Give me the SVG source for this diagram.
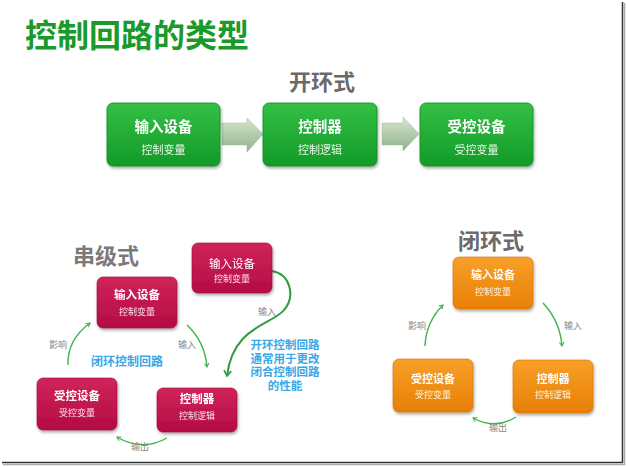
<svg xmlns="http://www.w3.org/2000/svg" width="626" height="467" viewBox="0 0 626 467">
<defs>
<style>
text{font-family:"Noto Sans CJK SC","Noto Sans",sans-serif;text-anchor:middle}
.title{font-size:32px;font-weight:bold;fill:#1a9a2a;text-anchor:start}
.sec{font-size:22px;font-weight:bold;fill:#6a6a6a}
.gm{font-size:14.5px;font-weight:bold;fill:#fff}
.gs{font-size:11px;fill:#e8f8e8}
.m{font-size:11.5px;font-weight:bold;fill:#fff}
.s{font-size:9px;fill:#fbe0ea}
.so{font-size:9px;fill:#fff3e0}
.lab{font-size:9px;fill:#888}
.blue{font-size:12px;font-weight:bold;fill:#3aa7e6}
.blue2{font-size:11.5px;font-weight:bold;fill:#3aa7e6}
.con{fill:none;stroke:#3cb44b;stroke-width:1.4}
.conb{fill:none;stroke:#2f9e3e;stroke-width:2}
</style>
<linearGradient id="gG" x1="0" y1="0" x2="0" y2="1"><stop offset="0" stop-color="#34c046"/><stop offset="1" stop-color="#139a28"/></linearGradient>
<linearGradient id="gR" x1="0" y1="0" x2="0" y2="1"><stop offset="0" stop-color="#d0245a"/><stop offset="1" stop-color="#b30c44"/></linearGradient>
<linearGradient id="gO" x1="0" y1="0" x2="0" y2="1"><stop offset="0" stop-color="#f8a02a"/><stop offset="1" stop-color="#e87f04"/></linearGradient>
<linearGradient id="gA" x1="0" y1="0" x2="0" y2="1"><stop offset="0" stop-color="#d5e6cf"/><stop offset="1" stop-color="#8fb28a"/></linearGradient>
<filter id="sh" x="-10%" y="-10%" width="130%" height="140%"><feDropShadow dx="1" dy="2" stdDeviation="1.5" flood-color="#000" flood-opacity="0.35"/></filter>
<marker id="ah" viewBox="0 0 8 8" refX="6" refY="4" markerWidth="6" markerHeight="6" orient="auto" markerUnits="userSpaceOnUse"><path d="M1,1 L6,4 L1,7" fill="none" stroke="#3cb44b" stroke-width="1.4"/></marker>
<marker id="ahb" viewBox="0 0 10 10" refX="7" refY="5" markerWidth="9" markerHeight="9" orient="auto" markerUnits="userSpaceOnUse"><path d="M1,1 L7,5 L1,9" fill="none" stroke="#2f9e3e" stroke-width="2"/></marker>
</defs>
<rect width="626" height="467" fill="#fff"/>
<line x1="622.5" y1="2" x2="622.5" y2="463" stroke="#333" stroke-width="1.5"/>
<line x1="624.5" y1="3" x2="624.5" y2="465" stroke="#aaa" stroke-width="1.5"/>
<line x1="2" y1="462.5" x2="623" y2="462.5" stroke="#333" stroke-width="1.5"/>
<line x1="3" y1="464.5" x2="625" y2="464.5" stroke="#aaa" stroke-width="1.5"/>

<text class="title" x="25" y="47">控制回路的类型</text>
<text class="sec" x="322" y="90" fill="#555">开环式</text>
<text class="sec" x="106" y="264" style="fill:#7a7a7a">串级式</text>
<text class="sec" x="491" y="249">闭环式</text>

<g id="open-arrows">
<polygon points="222,123 247,123 247,118 263,134 247,152 247,145 222,145" fill="url(#gA)" stroke="#9bb894" stroke-width="0.5"/>
<polygon points="382,123 403,123 403,117 419,134 403,151 403,145 382,145" fill="url(#gA)" stroke="#9bb894" stroke-width="0.5"/>
</g>

<g id="open-input" filter="url(#sh)">
<rect x="107" y="103" width="113" height="63" rx="6" fill="url(#gG)" stroke="#0f8a20" stroke-width="0.8"/>
<text class="gm" x="163.5" y="132">输入设备</text>
<text class="gs" x="163.5" y="154">控制变量</text>
</g>
<g id="open-controller" filter="url(#sh)">
<rect x="263" y="103" width="114" height="63" rx="6" fill="url(#gG)" stroke="#0f8a20" stroke-width="0.8"/>
<text class="gm" x="320" y="132">控制器</text>
<text class="gs" x="320" y="154">控制逻辑</text>
</g>
<g id="open-plant" filter="url(#sh)">
<rect x="420" y="103" width="113" height="63" rx="6" fill="url(#gG)" stroke="#0f8a20" stroke-width="0.8"/>
<text class="gm" x="476.5" y="132">受控设备</text>
<text class="gs" x="476.5" y="154">受控变量</text>
</g>

<g id="connectors">
<path class="con" d="M68,365 Q67,340 90,323" marker-end="url(#ah)"/>
<path class="con" d="M187,325 Q205,342 207,367" marker-end="url(#ah)"/>
<path class="con" d="M167,438 Q142,452 117,437" marker-end="url(#ah)"/>
<path class="conb" d="M272,271 C290,274 296,296 284,310 C272,325 233,326 227,376" marker-end="url(#ahb)"/>
<path class="con" d="M543,303 Q560,321 562,346" marker-end="url(#ah)"/>
<path class="con" d="M425,346 Q426,322 443,305" marker-end="url(#ah)"/>
<path class="con" d="M516,417 Q495,430 473,418" marker-end="url(#ah)"/>
</g>

<g id="labels">
<text class="lab" x="58" y="348">影响</text>
<text class="lab" x="187" y="348">输入</text>
<text class="lab" x="140" y="450">输出</text>
<text class="lab" x="267" y="315">输入</text>
<text class="blue" x="127" y="366">闭环控制回路</text>
<text class="blue2" x="285" y="349"><tspan x="285">开环控制回路</tspan><tspan x="285" dy="13.6">通常用于更改</tspan><tspan x="285" dy="13.6">闭合控制回路</tspan><tspan x="285" dy="13.6">的性能</tspan></text>
<text class="lab" x="417" y="329">影响</text>
<text class="lab" x="573" y="329">输入</text>
<text class="lab" x="498" y="431">输出</text>
</g>

<g id="cas-input1" filter="url(#sh)">
<rect x="97" y="277" width="80" height="51" rx="6" fill="url(#gR)" stroke="#9a0a38" stroke-width="0.6"/>
<text class="m" x="137" y="299">输入设备</text>
<text class="s" x="137" y="315">控制变量</text>
</g>
<g id="cas-input2" filter="url(#sh)">
<rect x="192" y="243" width="80" height="50" rx="6" fill="url(#gR)" stroke="#9a0a38" stroke-width="0.6"/>
<text class="m" x="232" y="268" style="font-weight:normal">输入设备</text>
<text class="s" x="232" y="282">控制变量</text>
</g>
<g id="cas-plant" filter="url(#sh)">
<rect x="37" y="378" width="80" height="52" rx="6" fill="url(#gR)" stroke="#9a0a38" stroke-width="0.6"/>
<text class="m" x="77" y="400">受控设备</text>
<text class="s" x="77" y="416">受控变量</text>
</g>
<g id="cas-controller" filter="url(#sh)">
<rect x="157" y="388" width="80" height="44" rx="6" fill="url(#gR)" stroke="#9a0a38" stroke-width="0.6"/>
<text class="m" x="197" y="403">控制器</text>
<text class="s" x="197" y="419">控制逻辑</text>
</g>

<g id="cl-input" filter="url(#sh)">
<rect x="453" y="257" width="80" height="52" rx="6" fill="url(#gO)" stroke="#d07000" stroke-width="0.6"/>
<text class="m" x="493" y="279" style="font-size:11px">输入设备</text>
<text class="so" x="493" y="295">控制变量</text>
</g>
<g id="cl-controller" filter="url(#sh)">
<rect x="513" y="360" width="80" height="53" rx="6" fill="url(#gO)" stroke="#d07000" stroke-width="0.6"/>
<text class="m" x="553" y="383" style="font-size:11px">控制器</text>
<text class="so" x="553" y="398">控制逻辑</text>
</g>
<g id="cl-plant" filter="url(#sh)">
<rect x="393" y="359" width="80" height="53" rx="6" fill="url(#gO)" stroke="#d07000" stroke-width="0.6"/>
<text class="m" x="433" y="383" style="font-size:11px">受控设备</text>
<text class="so" x="433" y="398">受控变量</text>
</g>
</svg>
